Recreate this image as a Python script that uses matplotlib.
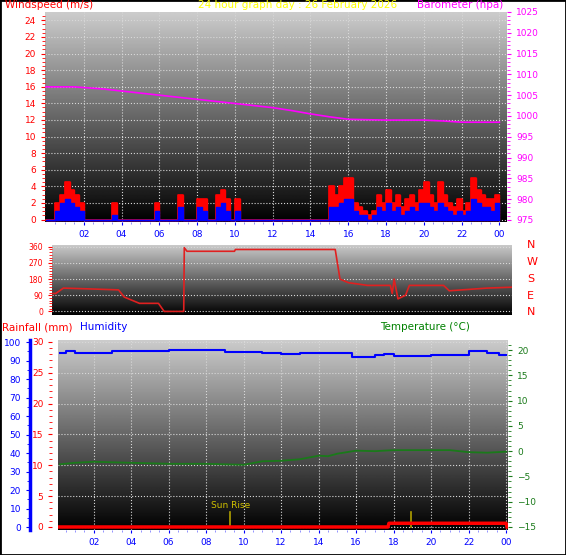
import numpy as np
import matplotlib
matplotlib.use("Agg")
import matplotlib.pyplot as plt

# ---- data ----
wind_t = np.arange(97) * 0.25
gust = [0, 0, 2, 3, 4.5, 3.5, 3, 2, 0, 0, 0, 0, 0, 0, 2, 0, 0, 0, 0, 0,
        0, 0, 0, 2, 0, 0, 0, 0, 3, 0, 0, 0, 2.5, 2.5, 0, 0, 3, 3.5, 2.5, 0,
        2.5, 0, 0, 0, 0, 0, 0, 0, 0, 0, 0, 0, 0, 0, 0, 0, 0, 0, 0, 0,
        4, 3, 4, 5, 5, 2, 1.5, 1, 0.5, 1, 3, 2, 3.5, 2, 3, 1.5, 2.5, 3, 2, 3.5,
        4.5, 3, 2, 4.5, 3, 2, 1.5, 2.5, 1, 2, 5, 3.5, 3, 2.5, 2.5, 3, 3]
avg = [0, 0, 1, 2, 2.5, 2, 1.5, 1, 0, 0, 0, 0, 0, 0, 0.5, 0, 0, 0, 0, 0,
       0, 0, 0, 1, 0, 0, 0, 0, 1.5, 0, 0, 0, 1.5, 1, 0, 0, 1.5, 2, 1, 0,
       1, 0, 0, 0, 0, 0, 0, 0, 0, 0, 0, 0, 0, 0, 0, 0, 0, 0, 0, 0,
       1.5, 1.5, 2, 2.5, 2.5, 1, 0.5, 0.5, 0, 0.5, 1.5, 1, 2, 1, 1.5, 0.5, 1, 1.5, 1, 2,
       2, 1.5, 1, 2, 1.5, 1, 0.5, 1, 0.5, 1, 2.5, 2, 1.5, 1.5, 1, 2, 2]

baro_t = [0, 1.5, 3, 4, 5, 6, 7, 8, 9, 10, 11, 12, 13, 14, 15, 16, 18, 20, 21, 22, 24]
baro = [1007, 1007, 1006.5, 1006, 1005.5, 1005, 1004.5, 1004, 1003.5, 1003, 1002.5,
        1002, 1001.3, 1000.5, 999.8, 999.2, 999, 999, 998.8, 998.5, 998.5]

dir_t = [0.45, 0.6, 1.0, 2.5, 3.9, 4.2, 5.0, 6.0, 6.3, 7.33, 7.36, 7.5, 10.0, 10.05,
         15.3, 15.55, 16.0, 17.0, 18.2, 18.3, 18.4, 18.6, 19.0, 19.2, 21.0, 21.3, 23.3, 24.6]
direction = [100, 100, 130, 125, 120, 80, 45, 45, 0, 0, 355, 335, 335, 345,
             345, 180, 160, 145, 145, 100, 180, 70, 90, 145, 145, 115, 130, 135]

hum_t = [0.2, 0.5, 1.0, 2.0, 3.0, 6.0, 7.5, 9.0, 11.0, 12.0, 13.0, 15.0, 15.8, 16.5,
         17.0, 17.5, 18.0, 19.0, 20.0, 22.0, 23.0, 23.6, 24.0]
humidity = [94, 95, 94, 94, 95, 95.5, 95.5, 94.5, 94, 93.5, 94, 94, 92, 92,
            93, 93.5, 92.5, 92.5, 93, 95, 94, 93, 93]

temp_t = [0.2, 1.0, 2.0, 3.0, 4.0, 5.0, 6.0, 8.0, 9.0, 10.0, 11.0, 12.0, 13.0, 14.0,
          14.5, 15.0, 16.0, 17.0, 18.0, 21.0, 22.0, 23.0, 24.0]
temp = [-2.6, -2.3, -2.1, -2.2, -2.3, -2.4, -2.5, -2.5, -2.6, -2.7, -2.0, -1.9, -1.6,
        -0.9, -1.0, -0.5, 0.1, 0.0, 0.2, 0.2, -0.2, -0.3, -0.1]

rain_t = [0.1, 17.7, 17.75, 24.0, 24.05]
rain = [0, 0, 0.6, 0.6, 0]

sun_events = [9.3, 18.95]
hour_ticks = list(range(2, 25, 2))
hour_labels = ["%02d" % (h % 24) for h in hour_ticks]

W, H = 566, 555


def rect(l, t, r, b):
    return [l / W, 1 - b / H, (r - l) / W, (b - t) / H]


grad = np.linspace(0.8, 0.0, 256).reshape(-1, 1)


def background(ax):
    ax.imshow(grad, cmap="gray", vmin=0, vmax=1, aspect="auto",
              extent=[0, 1, 0, 1], transform=ax.transAxes, zorder=0)
    ax.grid(True, color="#d8d8d8", linestyle=":", linewidth=0.8)
    ax.set_axisbelow(True)
    for s in ax.spines.values():
        s.set_visible(False)


fig = plt.figure(figsize=(W / 100, H / 100), dpi=100)
fig.patches.append(plt.Rectangle((0, 0), 1, 1, transform=fig.transFigure,
                                 fill=False, edgecolor="black", linewidth=2))
fs = 6.5

# ---- top panel: wind + barometer ----
ax1 = fig.add_axes(rect(45, 12, 507, 222))
background(ax1)
ax1.plot(wind_t, gust, color="red", drawstyle="steps-post", linewidth=1.2, zorder=3)
ax1.fill_between(wind_t, gust, step="post", color="red", zorder=3)
ax1.fill_between(wind_t, avg, step="post", color="blue", zorder=4)
ax1.set_xlim(-0.05, 24.4)
ax1.set_ylim(-0.3, 25)
ax1.set_yticks(range(0, 25, 2))
ax1.set_yticks(np.arange(0, 25, 0.5), minor=True)
ax1.tick_params(axis="y", colors="red", labelsize=fs, length=3)
ax1.tick_params(axis="y", which="minor", colors="red", length=2)
ax1.set_xticks(hour_ticks)
ax1.set_xticklabels(hour_labels)
ax1.tick_params(axis="x", colors="blue", labelsize=fs, length=2)
ax1.set_xticks(np.arange(0.5, 24.4, 0.5), minor=True)
ax1.tick_params(axis="x", which="minor", colors="#8080ff", length=1.5)
ax1b = ax1.twinx()
ax1b.plot(baro_t, baro, color="magenta", linewidth=1.2, zorder=5)
ax1b.set_ylim(974.5, 1025)
ax1b.set_yticks(range(975, 1026, 5))
ax1b.set_yticks(np.arange(975, 1026, 1), minor=True)
ax1b.tick_params(axis="y", colors="magenta", labelsize=fs, length=3)
ax1b.tick_params(axis="y", which="minor", colors="magenta", length=2)
for s in ax1b.spines.values():
    s.set_visible(False)

# ---- middle panel: wind direction ----
ax2 = fig.add_axes(rect(52, 245, 512, 315))
background(ax2)
ax2.plot(dir_t, direction, color="#e02020", linewidth=1.2, zorder=3)
ax2.set_xlim(0.4, 24.6)
ax2.set_ylim(-20, 370)
ax2.set_yticks([0, 90, 180, 270, 360])
ax2.set_yticks(np.arange(0, 361, 15), minor=True)
ax2.tick_params(axis="y", colors="red", labelsize=5.5, length=3)
ax2.tick_params(axis="y", which="minor", colors="red", length=2)
ax2.set_xticks([])
ax2.grid(False, axis="x")
for lab, y in zip(["N", "W", "S", "E", "N"], [245, 262, 279, 296, 312]):
    fig.text(527 / W, 1 - y / H, lab, color="red", fontsize=8, ha="left", va="center")

# ---- bottom panel: rain, humidity, temperature ----
ax3 = fig.add_axes(rect(58, 340, 508, 530))
background(ax3)
ax3.plot(rain_t, rain, color="red", linewidth=2.5, zorder=4)
ax3.set_xlim(0.1, 24.1)
ax3.set_ylim(-0.49, 30.3)
ax3.set_yticks(range(0, 31, 5))
ax3.set_yticks(range(0, 31, 1), minor=True)
ax3.tick_params(axis="y", colors="red", labelsize=fs, length=3)
ax3.tick_params(axis="y", which="minor", colors="red", length=2)
ax3.spines["left"].set_visible(True)
ax3.spines["left"].set_position(("outward", 4))
ax3.spines["left"].set_color("none")
ax3.set_xticks(hour_ticks)
ax3.set_xticklabels(hour_labels)
ax3.tick_params(axis="x", colors="blue", labelsize=fs, length=2)
ax3.set_xticks(np.arange(0.5, 24.1, 0.5), minor=True)
ax3.tick_params(axis="x", which="minor", colors="#8080ff", length=1.5)
for st in sun_events:
    ax3.plot([st, st], [0, 2.5], color="#b0a000", linewidth=1.2, zorder=3)
ax3.text(sun_events[0], 2.8, "Sun Rise", color="#d0c000", fontsize=6.5,
         ha="center", va="bottom")

ax3h = ax3.twinx()
ax3h.plot(hum_t, humidity, color="blue", linewidth=1.5, drawstyle="steps-post", zorder=4)
ax3h.set_ylim(-1.6, 101.1)
ax3h.yaxis.set_ticks_position("left")
ax3h.yaxis.set_label_position("left")
ax3h.set_yticks(range(0, 101, 10))
ax3h.set_yticks(range(0, 101, 5), minor=True)
ax3h.tick_params(axis="y", colors="blue", labelsize=fs, length=3)
ax3h.tick_params(axis="y", which="minor", colors="blue", length=2)
for s in ax3h.spines.values():
    s.set_visible(False)
ax3h.spines["left"].set_visible(True)
ax3h.spines["left"].set_position(("outward", 20))
ax3h.spines["left"].set_color("blue")
ax3h.spines["left"].set_linewidth(2.5)

ax3t = ax3.twinx()
ax3t.plot(temp_t, temp, color="#1a7a1a", linewidth=1.3, zorder=4)
ax3t.set_ylim(-15.6, 22)
ax3t.set_yticks(range(-15, 21, 5))
ax3t.set_yticks(range(-15, 22, 1), minor=True)
ax3t.tick_params(axis="y", colors="#1a7a1a", labelsize=fs, length=3)
ax3t.tick_params(axis="y", which="minor", colors="#1a7a1a", length=2)
for s in ax3t.spines.values():
    s.set_visible(False)

# ---- titles ----
def ftext(x, y, s, c, ha="left"):
    fig.text(x / W, 1 - y / H, s, color=c, fontsize=7.5, ha=ha, va="center")


ftext(5, 5, "Windspeed (m/s)", "red")
ftext(298, 5, "24 hour graph day : 26 February 2026", "yellow", ha="center")
ftext(503, 5, "Barometer (hpa)", "magenta", ha="right")
ftext(2, 327, "Rainfall (mm)", "red")
ftext(80, 327, "Humidity", "blue")
ftext(380, 327, "Temperature (°C)", "green")

fig.savefig("out.png", dpi=100)
